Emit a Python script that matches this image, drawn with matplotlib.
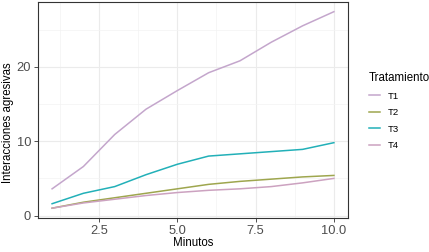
import numpy as np
import matplotlib.pyplot as plt

plt.rcParams['font.family'] = ['Liberation Sans', 'DejaVu Sans']

minutos = [1, 2, 3, 4, 5, 6, 7, 8, 9, 10]
t1 = [3.6, 6.6, 10.9, 14.3, 16.8, 19.2, 20.8, 23.3, 25.5, 27.4]
t2 = [1.0, 1.8, 2.4, 3.0, 3.6, 4.2, 4.6, 4.9, 5.2, 5.4]
t3 = [1.6, 3.0, 3.9, 5.5, 6.9, 8.0, 8.3, 8.6, 8.9, 9.8]
t4 = [1.0, 1.7, 2.2, 2.7, 3.1, 3.4, 3.6, 3.9, 4.4, 5.0]
series = [("T1", t1, "#C4A6CC"), ("T2", t2, "#9EA64E"),
          ("T3", t3, "#22B0B8"), ("T4", t4, "#CCA2C0")]

fig = plt.figure(figsize=(4.29, 2.52), dpi=100)
ax = fig.add_axes([38 / 429, 1 - 218 / 252, 310 / 429, 216 / 252])

for name, vals, col in series:
    ax.plot(minutos, vals, color=col, lw=1.1, label=name)

ax.set_xlim(0.55, 10.45)
ax.set_ylim(-0.32, 28.7)
ax.set_xticks([2.5, 5.0, 7.5, 10.0])
ax.set_xticklabels(["2.5", "5.0", "7.5", "10.0"])
ax.set_yticks([0, 10, 20])
ax.set_xticks([1.25, 3.75, 6.25, 8.75], minor=True)
ax.set_yticks([5, 15, 25], minor=True)
ax.grid(True, which='major', color='#EBEBEB', lw=0.8)
ax.grid(True, which='minor', color='#F3F3F3', lw=0.5)
ax.set_axisbelow(True)
for s in ax.spines.values():
    s.set_color('#333333')
    s.set_linewidth(0.8)
ax.tick_params(which='major', length=3, width=0.6, color='#333333',
               labelsize=9.3, labelcolor='#4D4D4D', pad=2)
ax.tick_params(which='minor', length=0)
ax.set_xlabel("Minutos", fontsize=8.3, labelpad=0)
ax.set_ylabel("Interacciones agresivas", fontsize=8.3, labelpad=2)
ax.yaxis.label.set_y(0.44)

leg = ax.legend(title="Tratamiento", loc='upper left', bbox_to_anchor=(1.04, 0.715),
                frameon=False, fontsize=6.8, title_fontsize=8.3,
                handlelength=1.2, handletextpad=0.8, labelspacing=0.8)
leg._legend_box.align = "left"

fig.savefig("out.png", dpi=100)
